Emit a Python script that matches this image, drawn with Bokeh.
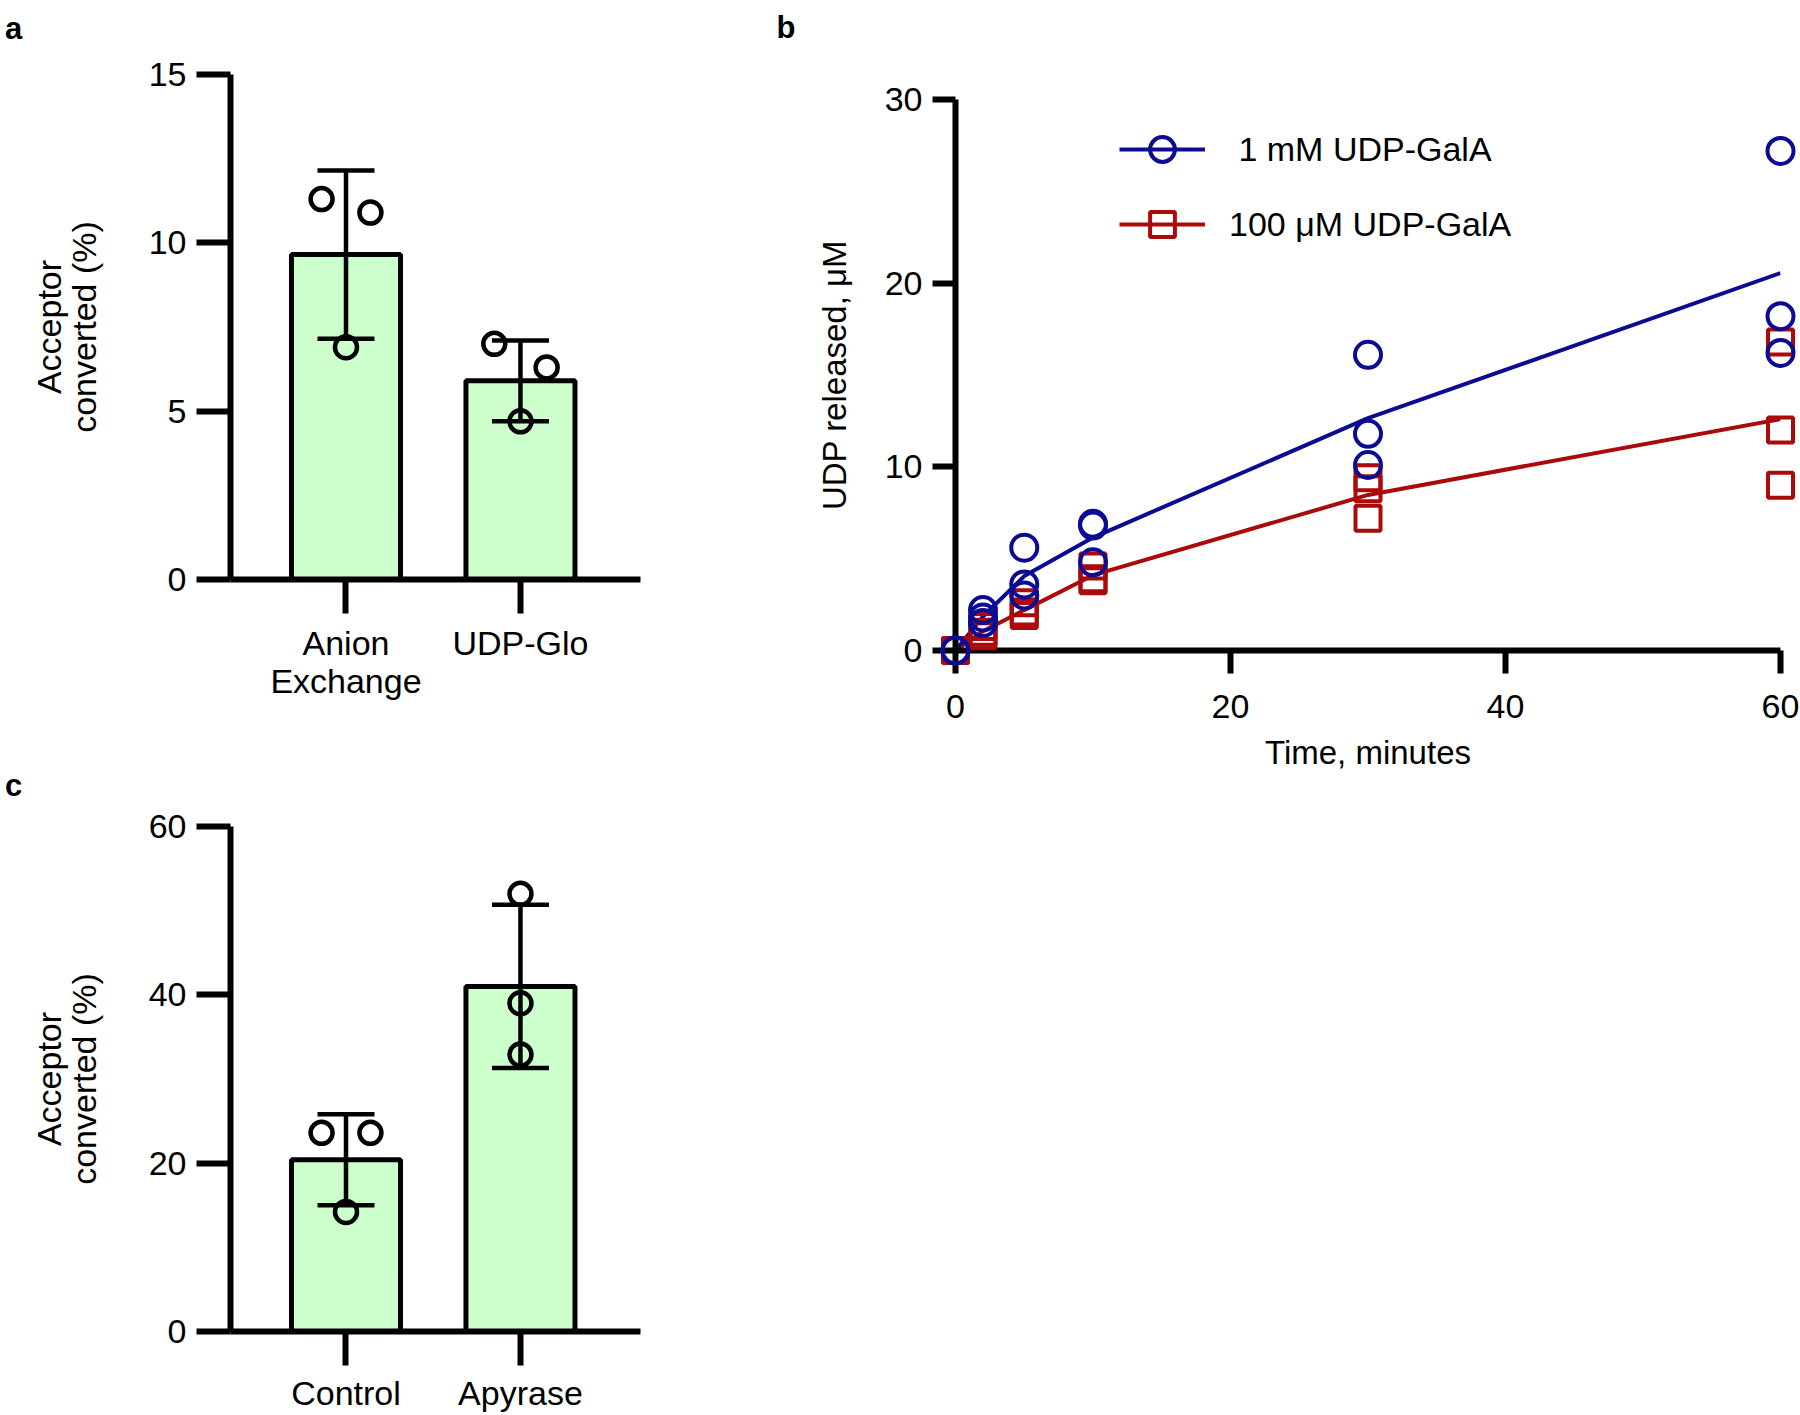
from bokeh.plotting import figure
from bokeh.layouts import row, column
from bokeh.models import (ColumnDataSource, Whisker, TeeHead, FixedTicker, Range1d,
                          Legend, LegendItem)
from bokeh.core.properties import value
from bokeh.embed import file_html
from bokeh.resources import INLINE

# ---------------- data ----------------
# Panel a
a_categories = ["Anion\nExchange", "UDP-Glo"]
a_means = [9.65, 5.9]
a_sd = [2.5, 1.2]
a_points = [[11.3, 10.9, 6.9], [7.0, 6.3, 4.7]]
a_yticks = [0, 5, 10, 15]

# Panel c
c_categories = ["Control", "Apyrase"]
c_means = [20.4, 41.0]
c_sd = [5.4, 9.7]
c_points = [[23.6, 23.6, 14.2], [52.0, 39.0, 32.9]]
c_yticks = [0, 20, 40, 60]

# Panel b
b_times = [0, 2, 5, 10, 30, 60]
b_1mM_reps = [[0, 0, 0], [2.2, 1.8, 1.5], [5.6, 3.6, 3.0], [6.9, 6.8, 4.8],
              [16.1, 11.8, 10.1], [27.2, 18.2, 16.2]]
b_1mM_mean = [0, 1.85, 4.05, 6.15, 12.65, 20.55]
b_100uM_reps = [[0, 0, 0], [1.3, 1.0, 0.8], [2.6, 2.1, 1.9], [4.6, 3.9, 3.8],
                [9.4, 8.8, 7.2], [16.8, 12.0, 9.0]]
b_100uM_mean = [0, 1.05, 2.2, 4.1, 8.47, 12.6]
b_xticks = [0, 20, 40, 60]
b_yticks = [0, 10, 20, 30]
b_labels = [" 1 mM UDP-GalA", "100 \u03bcM UDP-GalA"]

# ---------------- style ----------------
FONT = "Liberation Sans"
BAR_FILL = "#ccffcc"
BLUE = "#0b0b94"
RED = "#aa0a0a"
A_JITTER = [[-0.14, 0.14, 0.0], [-0.15, 0.15, 0.0]]
C_JITTER = [[-0.14, 0.14, 0.0], [0.0, 0.0, 0.0]]
X_START, X_END = 0.338, 2.688
FRAME_W = 410


def style_axes(p, tick_out, tick_font, title_font, lw=6):
    for ax in (p.xaxis[0], p.yaxis[0]):
        ax.axis_line_width = lw
        ax.axis_line_color = "black"
        ax.major_tick_line_width = lw
        ax.major_tick_line_color = "black"
        ax.major_tick_out = tick_out
        ax.major_tick_in = 0
        ax.minor_tick_line_color = None
        ax.major_label_text_font = FONT
        ax.major_label_text_font_size = tick_font
        ax.major_label_text_color = "black"
        ax.axis_label_text_font = FONT
        ax.axis_label_text_font_size = title_font
        ax.axis_label_text_font_style = "normal"
        ax.axis_label_text_color = "black"
    p.grid.visible = False
    p.outline_line_color = None


def add_letter(p, letter, x, y):
    p.text(x=[x], y=[y], text=[letter], text_font=value(FONT),
           text_font_size="31px", text_font_style="bold", text_color="black",
           text_align="left", text_baseline="alphabetic", level="overlay")


def bar_panel(cats, means, sd, pts, jitter, y_end, yticks, letter,
              height, top, bottom, fig_top_screen, letter_xy, x_standoff):
    p = figure(width=770, height=height, x_range=Range1d(X_START, X_END),
               y_range=Range1d(0, y_end), output_backend="svg",
               toolbar_location=None, min_border_left=230, min_border_right=130,
               min_border_top=top, min_border_bottom=bottom)
    pos = [1, 2]
    p.vbar(x=pos, top=means, width=0.625, bottom=0, fill_color=BAR_FILL,
           line_color="black", line_width=5)
    px, py = [], []
    for i, vals in enumerate(pts):
        for j, v in enumerate(vals):
            px.append(pos[i] + jitter[i][j])
            py.append(v)
    p.scatter(px, py, marker="circle", size=22, fill_color=None,
              line_color="black", line_width=4.5)
    src = ColumnDataSource(dict(base=pos,
                                upper=[m + s for m, s in zip(means, sd)],
                                lower=[m - s for m, s in zip(means, sd)]))
    w = Whisker(base="base", upper="upper", lower="lower", source=src,
                line_width=4.5, line_color="black", level="overlay",
                upper_head=TeeHead(size=57, line_width=4.5, line_color="black"),
                lower_head=TeeHead(size=57, line_width=4.5, line_color="black"))
    p.add_layout(w)
    style_axes(p, 34, "34px", "34px")
    p.xaxis.ticker = FixedTicker(ticks=pos)
    p.xaxis.major_label_overrides = {pos[0]: cats[0], pos[1]: cats[1]}
    p.xaxis.major_label_standoff = x_standoff
    p.xaxis.major_label_text_line_height = 1.0
    p.yaxis.ticker = FixedTicker(ticks=yticks)
    p.yaxis.major_label_standoff = 10
    p.yaxis.axis_label = "Acceptor\nconverted (%)"
    p.yaxis.axis_label_standoff = 43
    p.yaxis.axis_label_text_line_height = 0.92
    # panel letter: screen px converted through the axes' scale
    frame_h = height - top - bottom
    xscale = FRAME_W / (X_END - X_START)
    yscale = frame_h / y_end
    frame_bottom_screen = fig_top_screen + top + frame_h
    lx = X_START - (230 - letter_xy[0]) / xscale
    ly = (frame_bottom_screen - letter_xy[1]) / yscale
    add_letter(p, letter, lx, ly)
    return p


# Panel a: screen y 0..740
pa = bar_panel(a_categories, a_means, a_sd, a_points, A_JITTER, 15, a_yticks,
               "a", 740, 74, 161, 0, (4.5, 28), 10)
# Panel c: screen y 740..1414
pc = bar_panel(c_categories, c_means, c_sd, c_points, C_JITTER, 60, c_yticks,
               "c", 674, 86, 82, 740, (4.5, 785), 8)

# Panel b: screen x 770..1799, y 0..800
pb = figure(width=1029, height=800, x_range=Range1d(0, 60), y_range=Range1d(0, 30),
            output_backend="svg", toolbar_location=None, min_border_left=185,
            min_border_right=19, min_border_top=99, min_border_bottom=150)
style_axes(pb, 23, "34px", "33px")
pb.xaxis.ticker = FixedTicker(ticks=b_xticks)
pb.yaxis.ticker = FixedTicker(ticks=b_yticks)
pb.xaxis.major_label_standoff = 21
pb.yaxis.major_label_standoff = 10
pb.xaxis.axis_label = "Time, minutes"
pb.xaxis.axis_label_standoff = 13
pb.yaxis.axis_label = "UDP released, \u03bcM"
pb.yaxis.axis_label_standoff = 29


def flat(times, reps):
    xs, ys = [], []
    for t, vals in zip(times, reps):
        for v in vals:
            xs.append(t)
            ys.append(v)
    return xs, ys


rx, ry = flat(b_times, b_100uM_reps)
bx, by = flat(b_times, b_1mM_reps)
red_line = pb.line(b_times, b_100uM_mean, line_color=RED, line_width=4)
blue_line = pb.line(b_times, b_1mM_mean, line_color=BLUE, line_width=4)
red_pts = pb.scatter(rx, ry, marker="square", size=25, fill_color=None,
                     line_color=RED, line_width=4, level="overlay")
blue_pts = pb.scatter(bx, by, marker="circle", size=26, fill_color=None,
                      line_color=BLUE, line_width=4, level="overlay")

legend = Legend(items=[LegendItem(label=b_labels[0], renderers=[blue_line, blue_pts]),
                       LegendItem(label=b_labels[1], renderers=[red_line, red_pts])],
                location=(164, 395), border_line_color=None,
                background_fill_alpha=0, padding=0, margin=0, spacing=13,
                glyph_width=86, glyph_height=62, label_height=62,
                label_standoff=24, label_text_font=FONT,
                label_text_font_size="34px", label_text_color="black")
pb.add_layout(legend)

bscale_x = 825 / 60
bscale_y = 551 / 30
add_letter(pb, "b", (776 - 955) / bscale_x, (650 - 27) / bscale_y)

layout = row(column(pa, pc, spacing=0), pb, spacing=0)
open("out.html", "w").write(file_html(layout, INLINE))
